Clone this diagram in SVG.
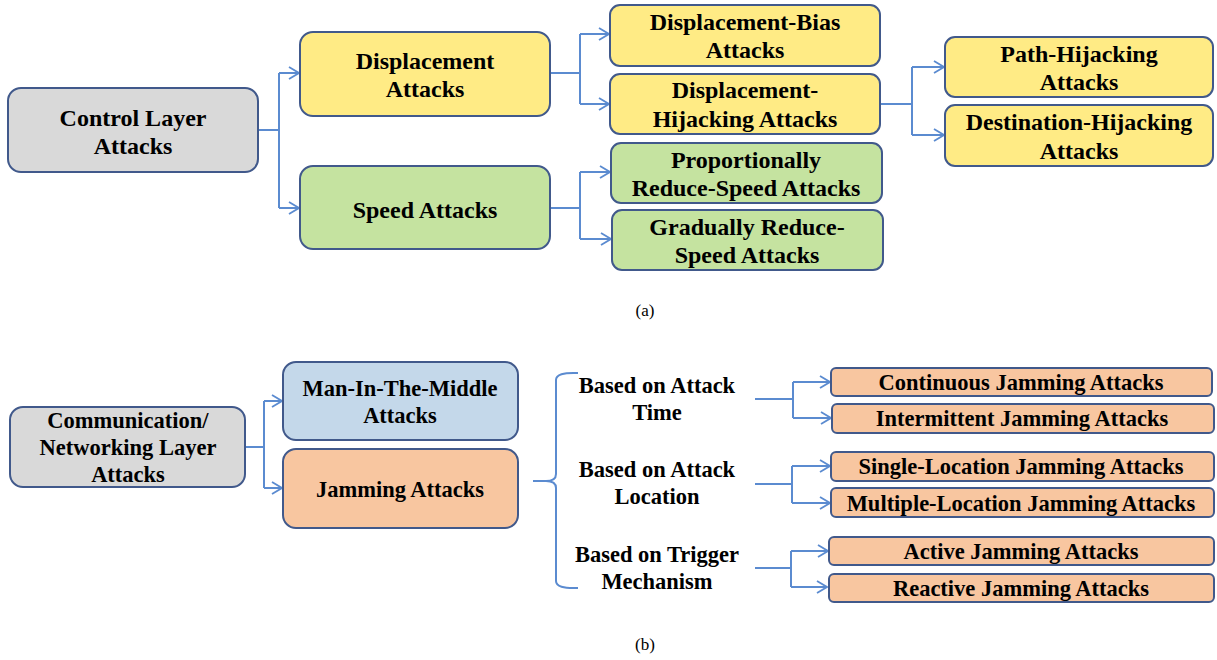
<svg xmlns="http://www.w3.org/2000/svg" width="1217" height="660" viewBox="0 0 1217 660">
<style>
.box{stroke:#41598B;stroke-width:2}
.g{fill:#D9D9D9}.y{fill:#FFEB85}.gr{fill:#C5E3A0}.b{fill:#C4D8EA}.o{fill:#F8C6A0}
.t{font-family:"Liberation Serif","Times New Roman",serif;font-weight:bold;fill:#000;text-anchor:middle}
.ta{font-size:24px}.tb{font-size:22.5px}
.cap{font-family:"Liberation Serif","Times New Roman",serif;font-size:17px;fill:#000;text-anchor:middle}
.c{fill:none;stroke:#5B8BD0;stroke-width:2}
</style>
<defs>
<marker id="ah" markerWidth="12" markerHeight="14" refX="11" refY="7" orient="auto" markerUnits="userSpaceOnUse">
<path d="M1,1 L11,7 L1,13" fill="none" stroke="#5B8BD0" stroke-width="1.8"/>
</marker>
</defs>
<rect width="1217" height="660" fill="#fff"/>
<g id="connectors">
<path class="c" d="M258,130 H279 M279,73 V208"/>
<path class="c" d="M279,73 H299" marker-end="url(#ah)"/>
<path class="c" d="M279,208 H299" marker-end="url(#ah)"/>
<path class="c" d="M550,73 H580 M580,34 V104"/>
<path class="c" d="M580,34 H609" marker-end="url(#ah)"/>
<path class="c" d="M580,104 H609" marker-end="url(#ah)"/>
<path class="c" d="M550,208 H580 M580,172 V239"/>
<path class="c" d="M580,172 H610" marker-end="url(#ah)"/>
<path class="c" d="M580,239 H611" marker-end="url(#ah)"/>
<path class="c" d="M880,104 H912 M912,67 V135"/>
<path class="c" d="M912,67 H944" marker-end="url(#ah)"/>
<path class="c" d="M912,135 H944" marker-end="url(#ah)"/>
<path class="c" d="M245,447 H264 M264,401 V488"/>
<path class="c" d="M264,401 H282" marker-end="url(#ah)"/>
<path class="c" d="M264,488 H282" marker-end="url(#ah)"/>
<path class="c" d="M533,481 H546" />
<path class="c" stroke-width="1.5" d="M578,373 Q556,372 556,380 V474 Q556,481 546,481 Q556,481 556,488 V581 Q556,589 578,588"/>
<path class="c" d="M755,399 H793 M793,382 V418"/>
<path class="c" d="M793,382 H830" marker-end="url(#ah)"/>
<path class="c" d="M793,418 H831" marker-end="url(#ah)"/>
<path class="c" d="M755,484 H792 M792,466 V503"/>
<path class="c" d="M792,466 H830" marker-end="url(#ah)"/>
<path class="c" d="M792,503 H830" marker-end="url(#ah)"/>
<path class="c" d="M755,568 H791 M791,551 V587"/>
<path class="c" d="M791,551 H828" marker-end="url(#ah)"/>
<path class="c" d="M791,587 H827" marker-end="url(#ah)"/>
</g>
<g id="control">
<rect class="box g" x="8" y="88" width="250" height="84" rx="13"/>
<text class="t ta" x="133" y="126">Control Layer</text>
<text class="t ta" x="133" y="154">Attacks</text>
</g>
<g id="displacement">
<rect class="box y" x="300" y="32" width="250" height="84" rx="13"/>
<text class="t ta" x="425" y="69">Displacement</text>
<text class="t ta" x="425" y="97">Attacks</text>
</g>
<g id="speed">
<rect class="box gr" x="300" y="166" width="250" height="83" rx="13"/>
<text class="t ta" x="425" y="218">Speed Attacks</text>
</g>
<g id="disp-bias">
<rect class="box y" x="610" y="5" width="270" height="61" rx="10"/>
<text class="t ta" x="745" y="30">Displacement-Bias</text>
<text class="t ta" x="745" y="58">Attacks</text>
</g>
<g id="disp-hijack">
<rect class="box y" x="610" y="74" width="270" height="60" rx="10"/>
<text class="t ta" x="745" y="98">Displacement-</text>
<text class="t ta" x="745" y="127">Hijacking Attacks</text>
</g>
<g id="prop-speed">
<rect class="box gr" x="611" y="143" width="271" height="60" rx="10"/>
<text class="t ta" x="746" y="168">Proportionally</text>
<text class="t ta" x="746" y="196">Reduce-Speed Attacks</text>
</g>
<g id="grad-speed">
<rect class="box gr" x="612" y="210" width="271" height="60" rx="10"/>
<text class="t ta" x="747" y="235">Gradually Reduce-</text>
<text class="t ta" x="747" y="263">Speed Attacks</text>
</g>
<g id="path-hijack">
<rect class="box y" x="945" y="37" width="268" height="60" rx="10"/>
<text class="t ta" x="1079" y="62">Path-Hijacking</text>
<text class="t ta" x="1079" y="90">Attacks</text>
</g>
<g id="dest-hijack">
<rect class="box y" x="945" y="105" width="268" height="61" rx="10"/>
<text class="t ta" x="1079" y="130">Destination-Hijacking</text>
<text class="t ta" x="1079" y="159">Attacks</text>
</g>
<text class="cap" x="645" y="316">(a)</text>
<g id="comm">
<rect class="box g" x="10" y="407" width="235" height="80" rx="13"/>
<text class="t tb" x="128" y="428">Communication/</text>
<text class="t tb" x="128" y="455">Networking Layer</text>
<text class="t tb" x="128" y="482">Attacks</text>
</g>
<g id="mitm">
<rect class="box b" x="283" y="362" width="235" height="78" rx="13"/>
<text class="t tb" x="400" y="396">Man-In-The-Middle</text>
<text class="t tb" x="400" y="423">Attacks</text>
</g>
<g id="jamming">
<rect class="box o" x="283" y="449" width="235" height="79" rx="13"/>
<text class="t tb" x="400" y="497">Jamming Attacks</text>
</g>
<g id="cat-time">
<text class="t tb" x="657" y="393">Based on Attack</text>
<text class="t tb" x="657" y="420">Time</text>
</g>
<g id="cat-location">
<text class="t tb" x="657" y="477">Based on Attack</text>
<text class="t tb" x="657" y="504">Location</text>
</g>
<g id="cat-trigger">
<text class="t tb" x="657" y="562">Based on Trigger</text>
<text class="t tb" x="657" y="589">Mechanism</text>
</g>
<g id="continuous">
<rect class="box o" x="831" y="368" width="381" height="28" rx="5"/>
<text class="t tb" x="1021" y="390">Continuous Jamming Attacks</text>
</g>
<g id="intermittent">
<rect class="box o" x="832" y="404" width="382" height="29" rx="5"/>
<text class="t tb" x="1022" y="426">Intermittent Jamming Attacks</text>
</g>
<g id="single">
<rect class="box o" x="831" y="452" width="383" height="29" rx="5"/>
<text class="t tb" x="1021" y="474">Single-Location Jamming Attacks</text>
</g>
<g id="multiple">
<rect class="box o" x="831" y="488" width="383" height="29" rx="5"/>
<text class="t tb" x="1021" y="511">Multiple-Location Jamming Attacks</text>
</g>
<g id="active">
<rect class="box o" x="829" y="537" width="385" height="28" rx="5"/>
<text class="t tb" x="1021" y="559">Active Jamming Attacks</text>
</g>
<g id="reactive">
<rect class="box o" x="829" y="574" width="385" height="28" rx="5"/>
<text class="t tb" x="1021" y="596">Reactive Jamming Attacks</text>
</g>
<text class="cap" x="645" y="650">(b)</text>
</svg>
